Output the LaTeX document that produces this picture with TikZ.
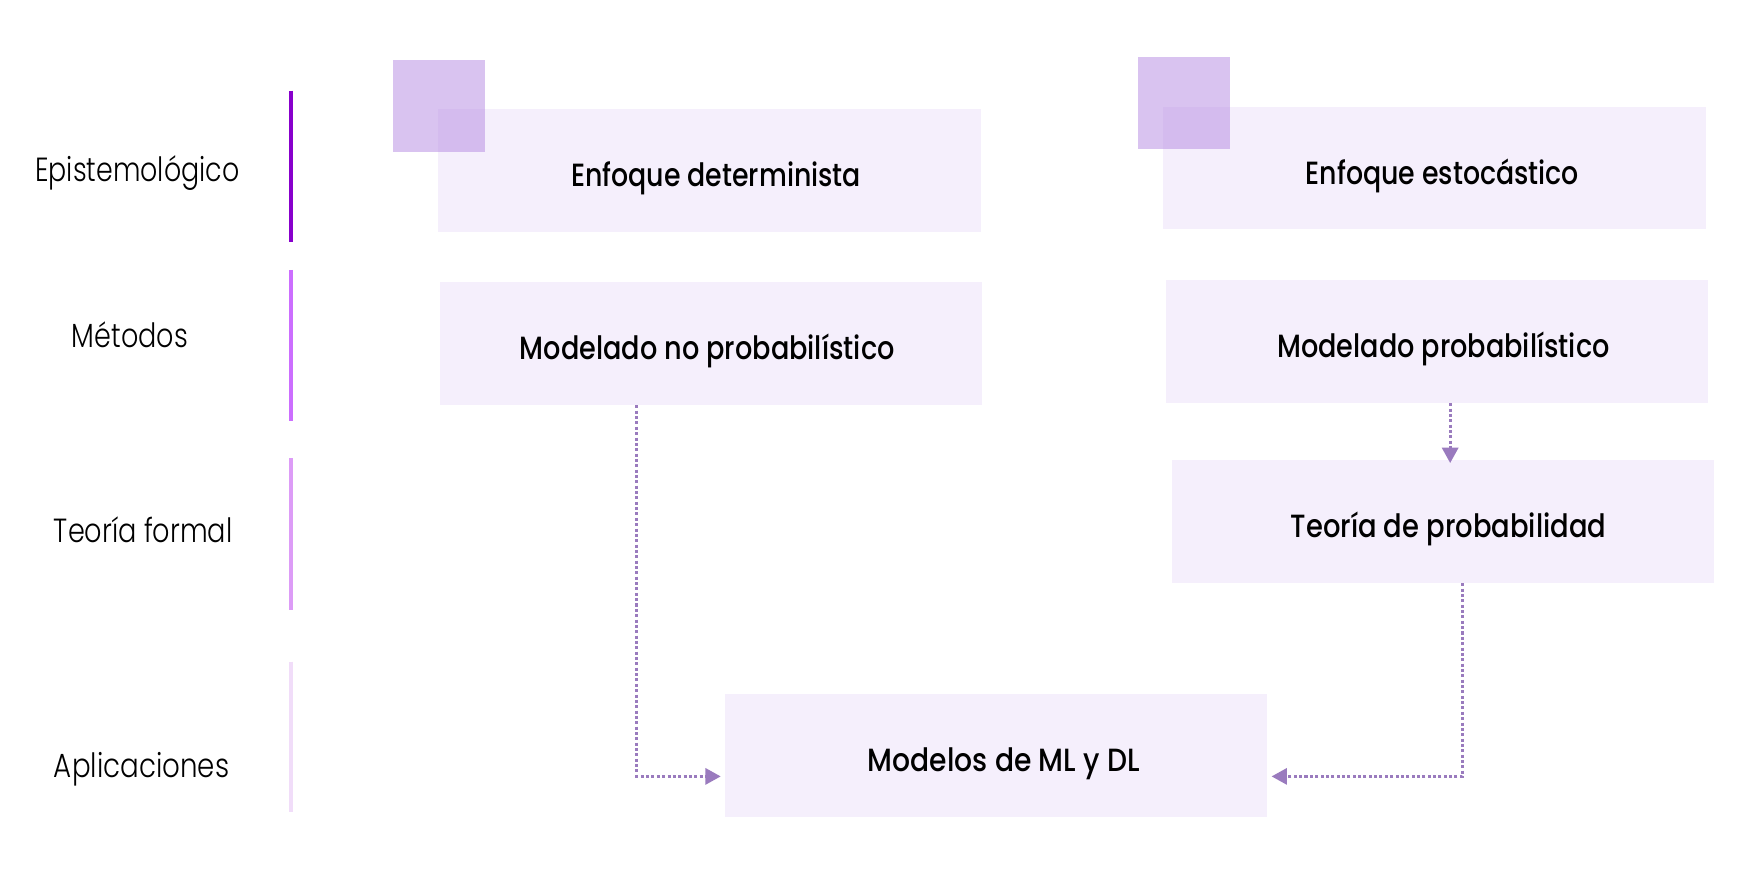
\documentclass[tikz,border=0pt]{standalone}
\usepackage{fontspec}
\setmainfont{Poppins}
\IfFontExistsTF{Poppins Light}{\newfontfamily\labfont{Poppins Light}}{\newfontfamily\labfont{Poppins}}
\IfFontExistsTF{Poppins Medium}{\newfontfamily\boxfont{Poppins Medium}}{\newfontfamily\boxfont{Poppins}[FakeBold=0.6]}
\usepackage{graphicx}
\usetikzlibrary{arrows.meta,calc}
\definecolor{barA}{HTML}{8800CC}
\definecolor{barB}{HTML}{CC6EFF}
\definecolor{barC}{HTML}{DD9CF7}
\definecolor{barD}{HTML}{F1DDF9}
\definecolor{sqcol}{HTML}{D9C3F0}
\definecolor{dotcol}{HTML}{B48AE8}
\definecolor{arrcol}{HTML}{9A7BBE}
\newsavebox\fitbox
\newcommand\fitw[2]{\sbox\fitbox{#2}\pgfmathsetmacro\fitsx{#1/\the\wd\fitbox}\scalebox{\fitsx}[1]{\usebox\fitbox}}
\begin{document}
\begin{tikzpicture}[x=0.5pt,y=-0.5pt,
  box/.style={fill=dotcol, fill opacity=0.13, text opacity=1, minimum width=243pt, minimum height=55pt, inner sep=0pt, text height=14.5pt, text depth=0pt, font=\boxfont\fontsize{14.4}{17}\selectfont},
  sq/.style={fill=sqcol, minimum size=41.25pt, inner sep=0pt},
  lab/.style={anchor=base west, inner sep=0pt, font=\labfont\fontsize{15}{18}\selectfont},
  bar/.style={line width=1.8pt},
  conn/.style={draw=arrcol, line width=1.35pt, dash pattern=on 1.35pt off 1.05pt, -{Triangle[length=6.9pt,width=7.2pt]}, shorten >=1.75pt}
]
\fill[white] (0,0) rectangle (1567,796.9);
\useasboundingbox (0,0) rectangle (1567,796.9);
% side bars
\draw[bar, barA] (260.6,81.2) -- (260.6,216.9);
\draw[bar, barB] (260.6,241.9) -- (260.6,377.5);
\draw[bar, barC] (260.6,411) -- (260.6,547);
\draw[bar, barD] (260.6,593) -- (260.6,728);
% left labels
\node[lab] (l1) at (31.2,163) {\fitw{91.5pt}{Epistemológico}};
\node[lab] (l2) at (64,311.5) {\fitw{52pt}{Métodos}};
\node[lab] (l3) at (48,486) {\fitw{80pt}{Teoría formal}};
\node[lab] (l4) at (48,697) {\fitw{78.5pt}{Aplicaciones}};
% squares
\node[sq] (s1) at (393.75,94.9) {};
\node[sq] (s2) at (1061.5,92) {};
% boxes
\node[box] (b1) at (636,153) {\kern6pt\fitw{130pt}{Enfoque determinista}};
\node[box] (b2) at (1286,150.5) {\kern7pt\fitw{122.5pt}{Enfoque estocástico}};
\node[box] (b3) at (637,308) {\fitw{168pt}{Modelado no probabilístico}\kern3pt};
\node[box] (b4) at (1288,306) {\kern6pt\fitw{149pt}{Modelado probabilístico}};
\node[box] (b5) at (1293.5,467.5) {\kern5pt\fitw{141.5pt}{Teoría de probabilidad}};
\node[box] (b6) at (893,677) {\kern7pt\fitw{122pt}{Modelos de ML y DL}};
% connectors
\coordinate (a1x) at (571,0);
\coordinate (a2x) at (1300,0);
\coordinate (a3x) at (1311,0);
\draw[conn] (b3.south -| a1x) |- ($(b6.west)+(0,19)$);
\draw[conn, shorten >=-1.5pt] (b4.south -| a2x) -- (b5.north -| a2x);
\draw[conn] (b5.south -| a3x) |- ($(b6.east)+(0,19)$);
\end{tikzpicture}
\end{document}
